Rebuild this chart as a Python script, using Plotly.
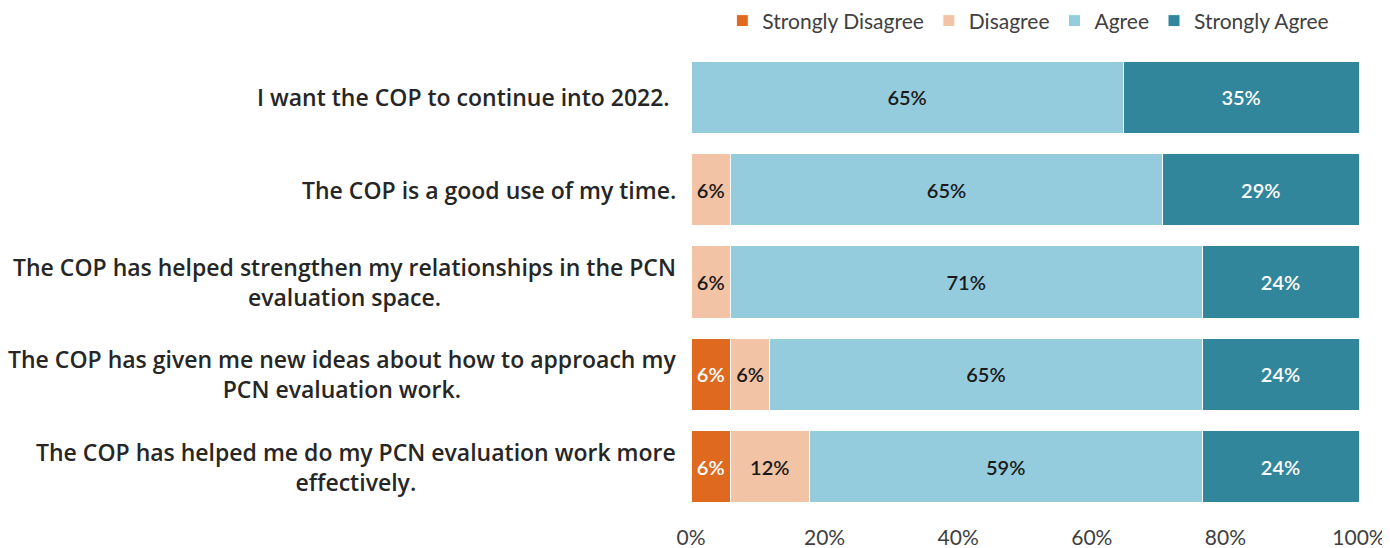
import plotly.graph_objects as go

categories = [
    "I want the COP to continue into 2022. ",
    "The COP is a good use of my time.",
    "The COP has helped strengthen my relationships in the PCN<br>evaluation space.",
    "The COP has given me new ideas about how to approach my<br>PCN evaluation work.",
    "The COP has helped me do my PCN evaluation work more<br>effectively.",
]
strongly_disagree = [0, 0, 0, 5.9, 5.9]
disagree = [0, 5.9, 5.9, 5.9, 11.8]
agree = [64.7, 64.7, 70.6, 64.7, 58.8]
strongly_agree = [35.3, 29.4, 23.5, 23.5, 23.5]
tick_vals = [0, 20, 40, 60, 80, 100]
tick_text = ["0%", "20%", "40%", "60%", "80%", "100%"]

series = [
    ("Strongly Disagree", strongly_disagree, "#DF6A1F", "white"),
    ("Disagree", disagree, "#F3C3A5", "#1a1a1a"),
    ("Agree", agree, "#94CCDD", "#1a1a1a"),
    ("Strongly Agree", strongly_agree, "#32869C", "white"),
]

FONT = "Lato"
fig = go.Figure()
for name, vals, color, tcol in series:
    texts = [f"{round(v)}%" if v > 0 else "" for v in vals]
    fig.add_trace(go.Bar(
        name=name, y=categories, x=vals, orientation="h",
        marker=dict(color=color, line=dict(color="white", width=1)),
        text=texts, textposition="inside", insidetextanchor="middle",
        textangle=0, constraintext="none",
        textfont=dict(family=FONT, size=20, color=tcol, weight=600),
        hoverinfo="skip",
    ))

for c in categories:
    fig.add_annotation(
        x=-0.02, xref="paper", y=c, yref="y", text=c, showarrow=False,
        xanchor="right", yanchor="middle", align="center",
        font=dict(family="Open Sans", size=23, color="#262626", weight=600),
    )

fig.update_layout(
    barmode="stack", bargap=0.22,
    width=1390, height=548,
    margin=dict(l=683, r=39, t=43, b=43, autoexpand=False),
    paper_bgcolor="white", plot_bgcolor="white",
    uniformtext=dict(minsize=20, mode="show"),
    font=dict(family=FONT, color="#404040"),
    legend=dict(orientation="h", x=0.505, xanchor="center", y=1.065, yanchor="middle",
                font=dict(family=FONT, size=21, color="#404040"),
                traceorder="normal", itemclick=False, entrywidth=0),
    xaxis=dict(range=[0, 100], tickvals=tick_vals, ticktext=tick_text,
               showgrid=False, zeroline=False, showline=False, automargin=False,
               ticklabelstandoff=10,
               tickfont=dict(family=FONT, size=21, color="#404040")),
    yaxis=dict(categoryorder="array", categoryarray=categories[::-1],
               showticklabels=False, showgrid=False, zeroline=False, automargin=False),
)

fig.write_html("out.html")
